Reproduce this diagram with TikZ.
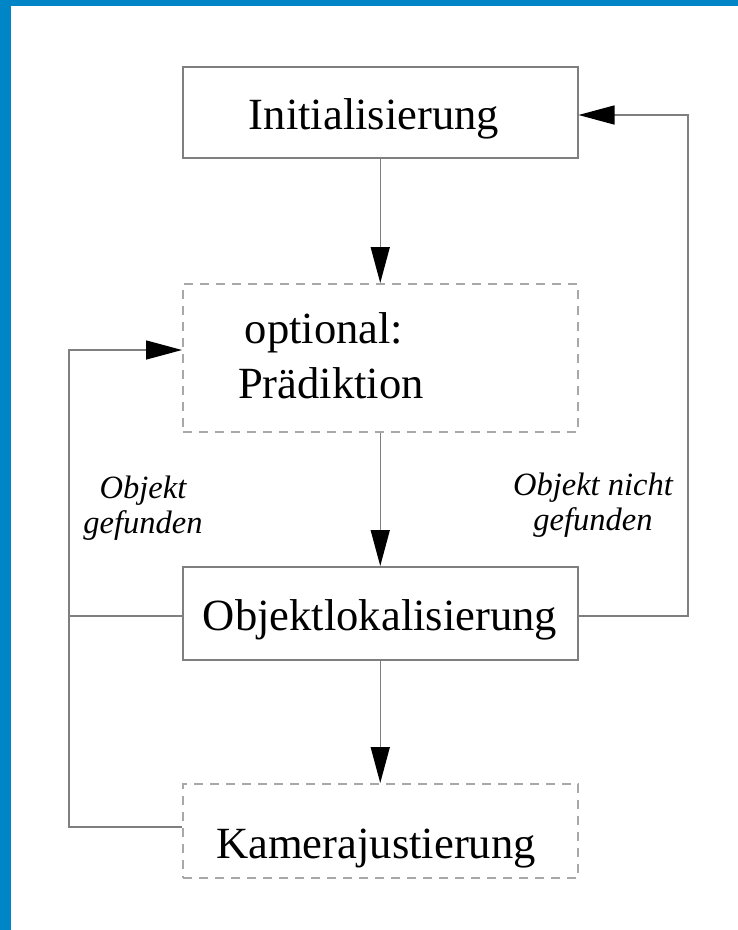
\documentclass[tikz,border=0pt]{standalone}
\usepackage{fontspec}
\setmainfont{Liberation Serif}
\usetikzlibrary{arrows.meta}
\definecolor{frameblue}{HTML}{0086C6}
\definecolor{linegray}{HTML}{7F7F7F}
\definecolor{dashgray}{HTML}{A8A8A8}
\begin{document}
\begin{tikzpicture}[x=1pt,y=-1pt,
  solidbox/.style={draw=linegray, line width=1.5pt, minimum width=395pt, minimum height=91pt, inner sep=0pt, anchor=north west},
  dashbox/.style={solidbox, draw=dashgray, dash pattern=on 9pt off 7pt},
  boxtext/.style={anchor=base, inner sep=0pt, font=\fontsize{44.6}{50}\selectfont},
  lab/.style={anchor=base, inner sep=0pt, align=center, font=\fontsize{32.5}{35}\selectfont\itshape},
  plainline/.style={draw=linegray, line width=1.5pt},
  conn/.style={plainline, -{Triangle[length=36pt, width=19pt, color=black]}}
]
\fill[white] (0,0) rectangle (738,930);
\useasboundingbox (0,0) rectangle (738,930);
\fill[frameblue] (0,0) rectangle (738,6);
\fill[frameblue] (0,0) rectangle (11,930);

% boxes
\node[solidbox] (init) at (182,66) {};
\node[dashbox, minimum height=148pt] (pred) at (182,283) {};
\node[solidbox, minimum height=93pt] (obj) at (182,566) {};
\node[dashbox, minimum height=94pt] (kam) at (182,783) {};

% box texts
\node[boxtext] (initT) at (374,129) {Initialisierung};
\node[boxtext] (predT1) at (324,343) {optional:};
\node[boxtext] (predT2) at (331,398) {Prädiktion};
\node[boxtext] (objT) at (380,630) {Objektlokalisierung};
\node[boxtext] (kamT) at (376,858) {Kamerajustierung};

% labels (base anchor = baseline of last line)
\node[lab] (labfound) at (143,533) {Objekt\\gefunden};
\node[lab] (labnotfound) at (593,530) {Objekt nicht\\gefunden};

% vertical flow
\draw[conn] (init.south) -- (pred.north);
\draw[conn] (pred.south) -- (obj.north);
\draw[conn] (obj.south) -- (kam.north);

% left loop
\coordinate (lb) at (69,827);
\coordinate (lt) at (69,350);
\coordinate (lj) at (69,616);
\draw[conn] (kam.west |- lb) -- (lb) -- (lt) -- (pred.west |- lt);
\draw[plainline] (obj.west |- lj) -- (lj);

% right loop
\coordinate (rb) at (688,616);
\coordinate (rt) at (688,115);
\draw[conn] (obj.east |- rb) -- (rb) -- (rt) -- (init.east |- rt);
\end{tikzpicture}
\end{document}
